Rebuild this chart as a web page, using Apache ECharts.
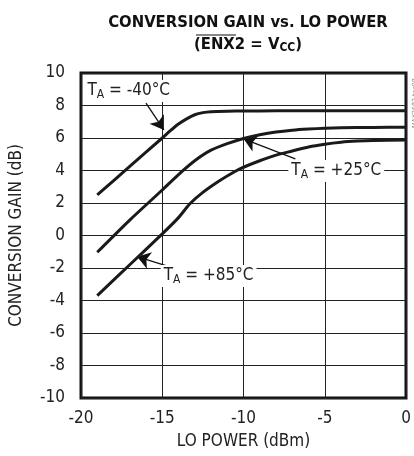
<!DOCTYPE html>
<html>
<head>
<meta charset="utf-8">
<script src="https://cdn.jsdelivr.net/npm/echarts@6/dist/echarts.min.js"></script>
<style>
html,body{margin:0;padding:0;background:#fff;}
#c{width:414px;height:456px;}
</style>
</head>
<body>
<div id="c"></div>
<script>
// ---- data ----
const xTicks = [-20, -15, -10, -5, 0];
const yTicks = [-10, -8, -6, -4, -2, 0, 2, 4, 6, 8, 10];

const loM40 = [-19, -17, -15, -14.5, -14, -13.5, -13, -12.5, -12, -11, -10, -8, -5, -2, 0];
const gainM40 = [2.5, 4.25, 6.0, 6.45, 6.86, 7.18, 7.43, 7.56, 7.62, 7.65, 7.66, 7.67, 7.68, 7.68, 7.68];

const loP25 = [-19, -17, -15, -14, -13, -12, -11, -10, -9, -8, -7, -6, -5, -4, -2, 0];
const gainP25 = [-1.03, 0.95, 2.8, 3.75, 4.6, 5.25, 5.65, 5.97, 6.2, 6.37, 6.48, 6.55, 6.6, 6.63, 6.65, 6.66];

const loP85 = [-19, -17, -15, -14, -13.3, -12.5, -11.5, -10.5, -10, -9, -8, -7, -6, -5, -4, -3, -2, 0];
const gainP85 = [-3.7, -1.8, 0.1, 1.1, 1.95, 2.65, 3.35, 3.95, 4.2, 4.6, 4.95, 5.2, 5.45, 5.62, 5.74, 5.81, 5.85, 5.88];

// annotation anchors (data coordinates)
const labelM40 = [-17.06, 8.89];
const arrowM40 = [[-16.0, 8.15], [-14.9, 6.5]];
const labelP25 = [-4.29, 3.97];
const arrowP25 = [[-6.81, 4.71], [-10.0, 5.95]];
const labelP85 = [-12.15, -2.49];
const arrowP85 = [[-14.48, -1.94], [-16.55, -1.3]];

const FONT = "'Liberation Sans Narrow','DejaVu Sans Condensed','Liberation Sans',Arial,sans-serif";

function pairs(xs, ys){ return xs.map((x,i)=>[x, ys[i]]); }

function tLabel(txt){
  return {
    show: true,
    formatter: '{t|T}{s|A}{t| = ' + txt + '}',
    backgroundColor: '#fff',
    padding: [1, 3, 1, 3],
    rich: {
      t: {fontFamily: FONT, fontSize: 17, color: '#222', lineHeight: 20},
      s: {fontFamily: FONT, fontSize: 12, color: '#222', padding: [7, 0, 0, 0], lineHeight: 20}
    }
  };
}

function arrowLine(a){
  return [{coord: a[0]}, {coord: a[1]}];
}

const chart = echarts.init(document.getElementById('c'), null, {renderer: 'canvas'});
const lineStyle = {color: '#1a1a1a', width: 3};

chart.setOption({
  animation: false,
  backgroundColor: '#fff',
  title: {
    left: 243, textAlign: 'center', top: 7,
    text: '{h|CONVERSION GAIN vs. LO POWER}\n{h|(ENX2 = V}{s|CC}{h|)}',
    textStyle: {
      rich: {
        h: {fontFamily: FONT, fontWeight: 'bold', fontSize: 16.5, color: '#111', lineHeight: 22},
        s: {fontFamily: FONT, fontWeight: 'bold', fontSize: 12, color: '#111', lineHeight: 22, padding: [6, 0, 0, 0]}
      }
    }
  },
  grid: {left: 80, right: 8, top: 73, bottom: 58, show: true, borderColor: '#111', borderWidth: 3, backgroundColor: 'transparent'},
  xAxis: {
    type: 'value', min: -20, max: 0, interval: 5,
    name: 'LO POWER (dBm)', nameLocation: 'middle', nameGap: 35,
    nameTextStyle: {fontFamily: FONT, fontSize: 17, color: '#222'},
    axisLine: {show: false}, axisTick: {show: false},
    axisLabel: {fontFamily: FONT, fontSize: 17, color: '#222', margin: 12, formatter: v => xTicks.includes(v) ? String(v) : ''},
    splitLine: {show: true, lineStyle: {color: '#222', width: 1}}
  },
  yAxis: {
    type: 'value', min: -10, max: 10, interval: 2,
    name: 'CONVERSION GAIN (dB)', nameLocation: 'middle', nameGap: 56,
    nameTextStyle: {fontFamily: FONT, fontSize: 17, color: '#222'},
    axisLine: {show: false}, axisTick: {show: false},
    axisLabel: {fontFamily: FONT, fontSize: 17, color: '#222', margin: 16, formatter: v => yTicks.includes(v) ? String(v) : ''},
    splitLine: {show: true, lineStyle: {color: '#222', width: 1}}
  },
  graphic: [
    {type: 'line', shape: {x1: 196, y1: 35, x2: 236, y2: 35}, style: {stroke: '#111', lineWidth: 1.2}},
    {type: 'text', x: 412, y: 128, rotation: Math.PI/2, style: {text: 'MAX2682 toc08', fontSize: 7, fill: '#888', fontFamily: FONT}}
  ],
  series: [
    {type: 'line', name: '-40', data: pairs(loM40, gainM40), showSymbol: false, smooth: 0.25, lineStyle: lineStyle, z: 5},
    {type: 'line', name: '+25', data: pairs(loP25, gainP25), showSymbol: false, smooth: 0.25, lineStyle: lineStyle, z: 5},
    {type: 'line', name: '+85', data: pairs(loP85, gainP85), showSymbol: false, smooth: 0.25, lineStyle: lineStyle, z: 5},
    {
      type: 'line', name: 'annot', data: [], z: 10,
      markLine: {
        silent: true, symbol: ['none', 'arrow'], symbolSize: 13,
        lineStyle: {color: '#111', width: 1.3, type: 'solid'}, label: {show: false},
        data: [arrowLine(arrowM40), arrowLine(arrowP25), arrowLine(arrowP85)]
      },
      markPoint: {
        silent: true, symbol: 'rect', symbolSize: 0,
        data: [
          {coord: labelM40, label: tLabel('-40°C')},
          {coord: labelP25, label: tLabel('+25°C')},
          {coord: labelP85, label: tLabel('+85°C')}
        ]
      }
    }
  ]
});
</script>
</body>
</html>
